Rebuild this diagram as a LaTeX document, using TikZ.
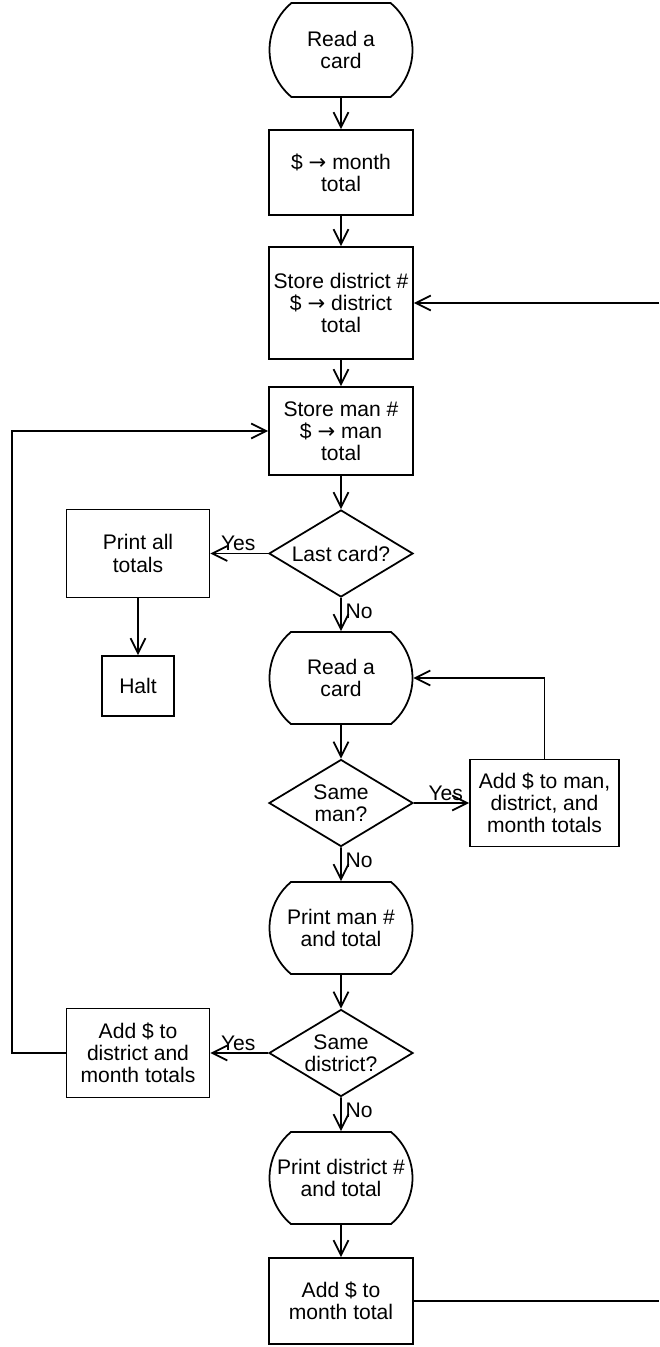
\documentclass[tikz,border=0pt]{standalone}
\usepackage{fontspec}
\setmainfont{Liberation Sans}
\newfontfamily\arrowfont{DejaVu Sans}
\newcommand{\sendto}{{\arrowfont →}}
\usepackage{tikz}
\usetikzlibrary{arrows.meta,calc,positioning,shapes.geometric,shapes.misc}

\begin{document}
\begin{tikzpicture}[
    font=\fontsize{12}{12.6}\selectfont,
    line width=1pt,
    flow/.style={-{Straight Barb[length=3mm,width=3mm]}},
    box/.style={draw,rectangle,align=center,inner sep=0pt,minimum width=2.88cm},
    term/.style={draw,rounded rectangle,rounded rectangle arc length=100,
      align=center,inner sep=0pt,minimum width=2.86cm,minimum height=1.84cm},
    decide/.style={draw,diamond,aspect=1.66,align=center,inner sep=0pt,
      minimum width=2.88cm,minimum height=1.74cm},
    lbl/.style={inner sep=1pt}
  ]
  \useasboundingbox (0,0) rectangle (13.18,-26.94);

  % main column
  \node[term,minimum height=1.88cm] (read1) at (6.82,-1.00) {Read a\\card};
  \node[box,minimum height=1.70cm] (month) at (6.82,-3.45) {\$ \sendto{} month\\total};
  \node[box,minimum height=2.24cm] (district) at (6.82,-6.06) {Store district \#\\\$ \sendto{} district\\total};
  \node[box,minimum height=1.76cm] (man) at (6.82,-8.62) {Store man \#\\\$ \sendto{} man\\total};
  \node[decide] (last) at (6.82,-11.07) {Last card?};
  \node[term] (read2) at (6.82,-13.56) {Read a\\card};
  \node[decide] (sameman) at (6.82,-16.06) {Same\\man?};
  \node[term] (printman) at (6.82,-18.56) {Print man \#\\and total};
  \node[decide] (samedist) at (6.82,-21.06) {Same\\district?};
  \node[term] (printdist) at (6.82,-23.56) {Print district \#\\and total};
  \node[box,minimum height=1.72cm] (addmonth) at (6.82,-26.02) {Add \$ to\\month total};

  % side boxes
  \node[box,minimum width=2.86cm,minimum height=1.76cm] (printall) at (2.76,-11.07) {Print all\\totals};
  \node[box,minimum width=1.44cm,minimum height=1.20cm] (halt) at (2.76,-13.72) {Halt};
  \node[box,minimum width=2.86cm,minimum height=1.78cm] (adddist) at (2.76,-21.06) {Add \$ to\\district and\\month totals};
  \node[box,minimum width=2.98cm,minimum height=1.74cm] (addman) at (10.89,-16.06) {Add \$ to man,\\district, and\\month totals};

  % loose ends at the page edges
  \coordinate (lcorner) at (0.24,-8.62);
  \coordinate (rtop) at (13.18,-6.06);
  \coordinate (rbot) at (13.18,-26.02);

  \draw[flow] (read1) -- (month);
  \draw[flow] (month) -- (district);
  \draw[flow] (district) -- (man);
  \draw[flow] (man) -- (last);
  \draw[flow] (last) -- (read2);
  \draw[flow] (read2) -- (sameman);
  \draw[flow] (sameman) -- (printman);
  \draw[flow] (printman) -- (samedist);
  \draw[flow] (samedist) -- (printdist);
  \draw[flow] (printdist) -- (addmonth);

  \draw[flow] (last.west) -- (printall.east);
  \draw[flow] (printall) -- (halt);
  \draw[flow] (sameman.east) -- (addman.west);
  \draw[flow] (addman.north) |- (read2.east);
  \draw[flow] (samedist.west) -- (adddist.east);
  \draw[flow] (adddist.west) -| (lcorner) -- (man.west);
  \draw[flow] (rtop) -- (district.east);
  \draw (addmonth.east) -- (rbot);

  % branch labels
  \node[lbl,anchor=south east,xshift=-0.2cm] (yes1) at (last.west) {Yes};
  \node[lbl,anchor=north west,xshift=0.04cm,yshift=-0.06cm] (no1) at (last.south) {No};
  \node[lbl,anchor=south west,xshift=0.24cm] (yes2) at (sameman.east) {Yes};
  \node[lbl,anchor=north west,xshift=0.04cm,yshift=-0.06cm] (no2) at (sameman.south) {No};
  \node[lbl,anchor=south east,xshift=-0.2cm] (yes3) at (samedist.west) {Yes};
  \node[lbl,anchor=north west,xshift=0.04cm,yshift=-0.06cm] (no3) at (samedist.south) {No};
\end{tikzpicture}
\end{document}
